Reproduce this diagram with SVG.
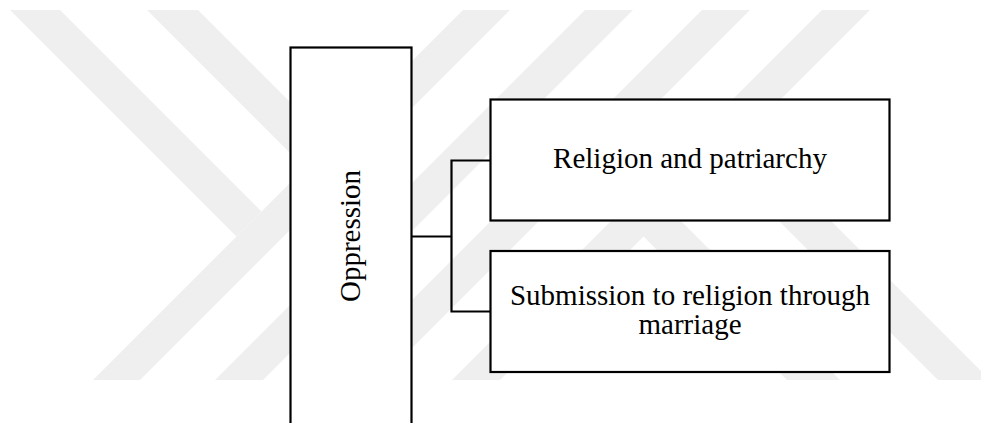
<svg xmlns="http://www.w3.org/2000/svg" width="981" height="423" viewBox="0 0 981 423">
<style>
.wm{fill:#efefef;stroke:none}
.box{fill:#ffffff;stroke:#000000;stroke-width:2.2}
.lbl{font-family:"Liberation Serif","Times New Roman",serif;font-size:29px;fill:#000000;text-anchor:middle}
.con{fill:none;stroke:#000000;stroke-width:2.2}
</style>
<rect x="0" y="0" width="981" height="423" fill="#ffffff"/>
<g id="watermark">
<polygon class="wm" points="463,10 510,10 140,380 93,380"/>
<polygon class="wm" points="585,10 633,10 263,380 215,380"/>
<polygon class="wm" points="702,10 750,10 380,380 332,380"/>
<polygon class="wm" points="822,10 870,10 500,380 452,380"/>
<polygon class="wm" points="10,10 60,10 261.5,211.5 236.5,236.5"/>
<polygon class="wm" points="147,10 198,10 391.5,203.5 366,229"/>
<polygon class="wm" points="619.5,212.5 646,186 840,380 787,380"/>
<polygon class="wm" points="719,161 745,135 990,380 938,380"/>
</g>
<g id="connectors">
<path class="con" d="M411.5 236.5 H451.5 M451.5 160.5 V311.5 M450.4 160.5 H490.5 M450.4 311.5 H490.5"/>
</g>
<g id="node-oppression">
<rect class="box" x="290.5" y="47.5" width="121" height="400"/>
<text class="lbl" transform="translate(360,236) rotate(-90)">Oppression</text>
</g>
<g id="node-religion-patriarchy">
<rect class="box" x="490.5" y="99.5" width="399" height="121"/>
<text class="lbl" x="690" y="168">Religion and patriarchy</text>
</g>
<g id="node-submission">
<rect class="box" x="490.5" y="251" width="399" height="121"/>
<text class="lbl" x="690" y="305">Submission to religion through</text>
<text class="lbl" x="690" y="334">marriage</text>
</g>
</svg>
